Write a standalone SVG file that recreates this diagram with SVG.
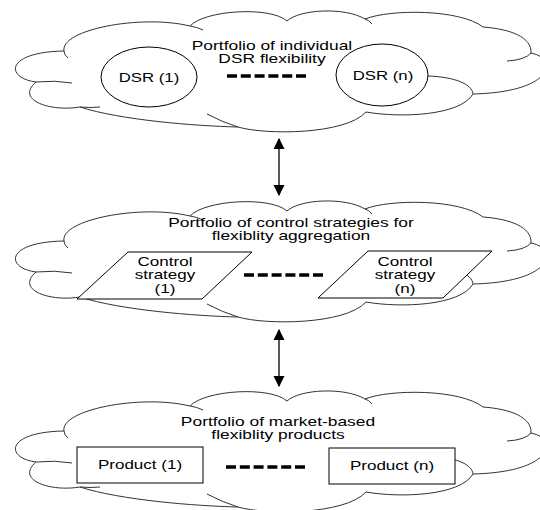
<svg xmlns="http://www.w3.org/2000/svg" xmlns:xlink="http://www.w3.org/1999/xlink" width="540" height="510" viewBox="0 0 540 510">
<style>
.cloud{fill:#fff;stroke:#333;stroke-width:1}
.stub{fill:none;stroke:#333;stroke-width:1}
.shape{fill:#fff;stroke:#000;stroke-width:1}
.dots{stroke:#000;stroke-width:3.5;stroke-dasharray:10 3.8;fill:none}
.t{font-family:"Liberation Sans",Arial,sans-serif;font-size:12px;fill:#000;text-anchor:middle}
.arrow{stroke:#000;stroke-width:1.3;fill:none;marker-start:url(#ah);marker-end:url(#ah)}
</style>
<defs>
<marker id="ah" viewBox="0 0 10 10" refX="9" refY="5" markerWidth="11" markerHeight="12" markerUnits="userSpaceOnUse" orient="auto-start-reverse">
<path d="M0,0 L10,5 L0,10 Z" fill="#000"/>
</marker>
<g id="cloudShape">
<path class="cloud" d="M64,51 C60,30 140,14 190,26 C205,10 270,6 287,21 C300,9 345,7 365,19 C390,9 460,9 483,27 C510,29 532,37 531,53 C558,58 555,92 473,94 C460,116 400,118 366,112 C345,135 265,135 238,127 C195,126 120,120 80,107 C50,112 15,100 36,82 C5,78 5,52 64,51 Z"/>
<path class="stub" d="M64,51 Q64,55 68,58 M190,26 Q197,27 203,30 M365,19 Q369,20 372,24 M531,53 Q525,60 507,61 M473,94 C472,84 455,77 428,76 M207,114 Q222,122 238,127 M80,107 Q90,108 100,107 M36,82 Q55,80 72,83"/>
</g>
</defs>

<g id="connectors">
<line class="arrow" x1="279" y1="139" x2="279" y2="195"/>
<line class="arrow" x1="279" y1="330" x2="279" y2="386"/>
</g>

<g id="cloud-dsr">
<use xlink:href="#cloudShape" href="#cloudShape"/>
<text class="t" transform="translate(272,49.5) scale(1.45,1)">Portfolio of individual</text>
<text class="t" transform="translate(272,63) scale(1.45,1)">DSR flexibility</text>
<path class="dots" d="M227,76 H306"/>
</g>
<g id="dsr-1">
<ellipse class="shape" cx="149" cy="77" rx="48" ry="30"/>
<text class="t" transform="translate(149,81.5) scale(1.4,1)">DSR (1)</text>
</g>
<g id="dsr-n">
<ellipse class="shape" cx="382" cy="75" rx="46" ry="31"/>
<text class="t" transform="translate(383,80) scale(1.4,1)">DSR (n)</text>
</g>

<g id="cloud-control">
<use xlink:href="#cloudShape" href="#cloudShape" transform="translate(0,190)"/>
<text class="t" transform="translate(291,227) scale(1.45,1)">Portfolio of control strategies for</text>
<text class="t" transform="translate(291,240) scale(1.45,1)">flexiblity aggregation</text>
<path class="dots" d="M244,275 H324"/>
</g>
<g id="control-1">
<path class="shape" d="M128,252 H252 L202,299 H77 Z"/>
<text class="t" transform="translate(165,265.5) scale(1.42,1)">Control</text>
<text class="t" transform="translate(165,279) scale(1.42,1)">strategy</text>
<text class="t" transform="translate(165,292.5) scale(1.42,1)">(1)</text>
</g>
<g id="control-n">
<path class="shape" d="M368,251 H492 L443,298 H318 Z"/>
<text class="t" transform="translate(405,265.5) scale(1.42,1)">Control</text>
<text class="t" transform="translate(405,279) scale(1.42,1)">strategy</text>
<text class="t" transform="translate(405,292.5) scale(1.42,1)">(n)</text>
</g>

<g id="cloud-products">
<use xlink:href="#cloudShape" href="#cloudShape" transform="translate(0,380)"/>
<text class="t" transform="translate(278,426) scale(1.45,1)">Portfolio of market-based</text>
<text class="t" transform="translate(278,439) scale(1.45,1)">flexiblity products</text>
<path class="dots" d="M226,467 H306"/>
</g>
<g id="product-1">
<rect class="shape" x="77" y="447" width="126" height="36"/>
<text class="t" transform="translate(140,469) scale(1.42,1)">Product (1)</text>
</g>
<g id="product-n">
<rect class="shape" x="329" y="448" width="126" height="36"/>
<text class="t" transform="translate(392,470) scale(1.42,1)">Product (n)</text>
</g>
</svg>
